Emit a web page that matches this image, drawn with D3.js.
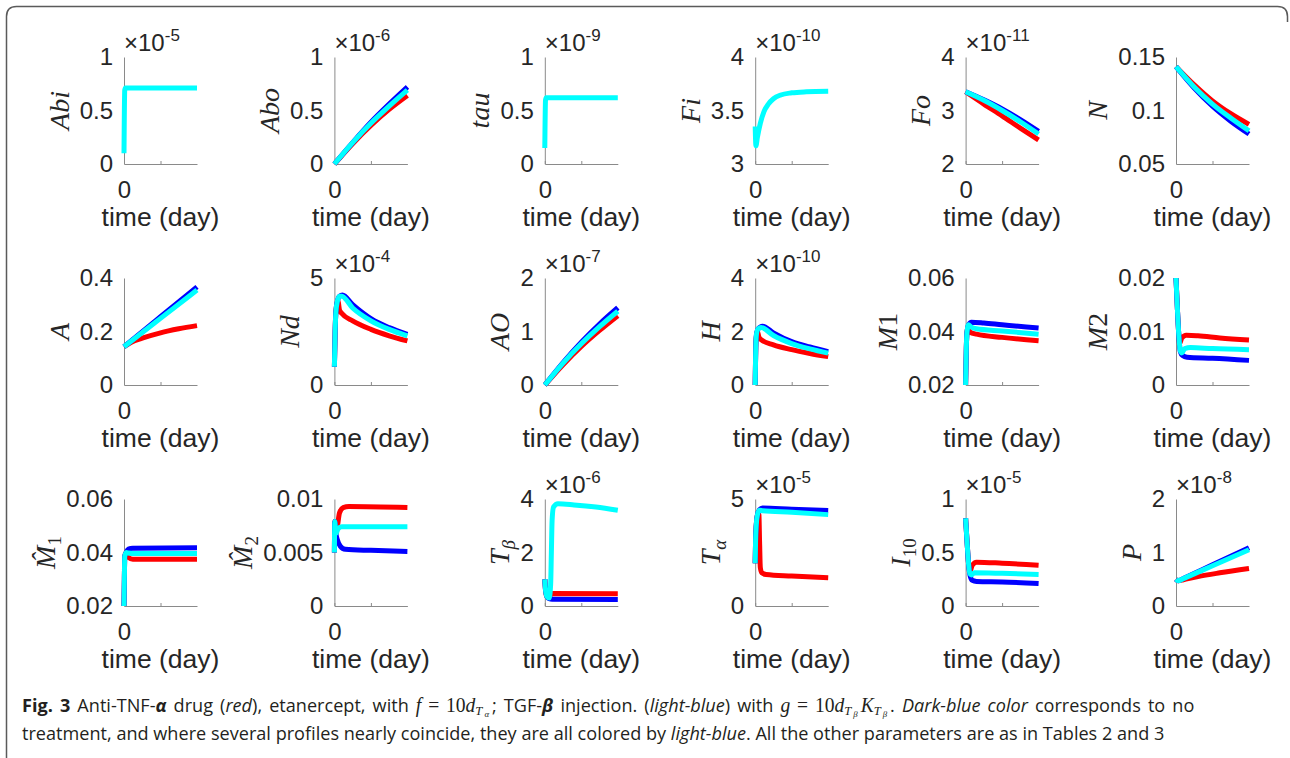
<!DOCTYPE html>
<html><head><meta charset="utf-8">
<script src="https://cdn.jsdelivr.net/npm/d3@7"></script>
<style>body{margin:0;background:#fff}svg{display:block}</style>
</head><body>
<svg id="chart" width="1290" height="758"></svg>
<script>
// ---------- data ----------
const yLabels = [
  [["Abi","i"]],[["Abo","i"]],[["tau","i"]],[["Fi","i"]],[["Fo","i"]],[["N","i"]],
  [["A","i"]],[["Nd","i"]],[["AO","i"]],[["H","i"]],[["M","i"],["1","n"]],[["M","i"],["2","n"]],
  [["M\u0302","i"],["1","sub"]],[["M\u0302","i"],["2","sub"]],[["T","i"],["β","subi"]],[["T","i"],["α","subi"]],[["I","i"],["10","sub"]],[["P","i"]]
];
const exponents = ["-5","-6","-9","-10","-11",null,null,"-4","-7","-10",null,null,null,null,"-6","-5","-5","-8"];
const yTicks = [
  [0,0.5,1],[0,0.5,1],[0,0.5,1],[3,3.5,4],[2,3,4],[0.05,0.1,0.15],
  [0,0.2,0.4],[0,5],[0,1,2],[0,2,4],[0.02,0.04,0.06],[0,0.01,0.02],
  [0.02,0.04,0.06],[0,0.005,0.01],[0,2,4],[0,5],[0,0.5,1],[0,1,2]
];
const xDomain = [0,100];
const xTicks = [0,50];
const xTickLabels = ["0",""];
const xLabel = "time (day)";

const redSeries = [
  null,
  [[0,0],[25,0.19],[50,0.36],[75,0.51],[100,0.64]],
  null,
  null,
  [[0,3.35],[25,3.12],[50,2.9],[75,2.67],[100,2.45]],
  [[0,0.141],[25,0.124],[50,0.109],[75,0.097],[100,0.087]],
  [[0,0.143],[10,0.16],[25,0.175],[50,0.195],[75,0.21],[100,0.222]],
  [[0,0.85],[1,2.5],[2,3.4],[4,3.85],[5,3.9],[7,3.5],[10,3.35],[25,3.0],[50,2.6],[75,2.3],[100,2.06]],
  [[0,0],[25,0.38],[50,0.72],[75,1.02],[100,1.295]],
  [[0,0],[1,1.6],[2,1.9],[3,2.0],[5,1.8],[8,1.7],[25,1.5],[50,1.32],[75,1.18],[100,1.06]],
  [[0,0.02],[1,0.034],[2,0.04],[3,0.0415],[6,0.0398],[15,0.039],[50,0.0378],[100,0.0365]],
  [[0,0.02],[2,0.014],[4,0.009],[5,0.0078],[8,0.0088],[14,0.0093],[30,0.0092],[60,0.0088],[100,0.0084]],
  [[0,0.02],[0.5,0.03],[1,0.0385],[3,0.04],[6,0.0382],[12,0.0375],[100,0.0375]],
  [[0,0.005],[0.5,0.0079],[2,0.0068],[4,0.0074],[7,0.0087],[12,0.0092],[20,0.0093],[100,0.0092]],
  [[0,1.0],[1,0.6],[3,0.35],[6,0.35],[10,0.47],[100,0.46]],
  [[0,2.0],[0.5,3.0],[1.5,3.8],[3,4.25],[5,4.3],[6,3.0],[7,1.8],[9,1.55],[15,1.47],[50,1.4],[100,1.32]],
  [[0,0.82],[2,0.6],[4,0.4],[6,0.32],[9,0.38],[15,0.41],[50,0.4],[100,0.38]],
  [[0,0.5],[3,0.47],[10,0.49],[30,0.55],[60,0.62],[100,0.7]]
];
const blueSeries = [
  null,
  [[0,0],[25,0.2],[50,0.39],[75,0.56],[100,0.72]],
  null,
  null,
  [[0,3.35],[25,3.2],[50,3.03],[75,2.83],[100,2.61]],
  [[0,0.141],[25,0.121],[50,0.104],[75,0.090],[100,0.078]],
  [[0,0.143],[50,0.255],[100,0.367]],
  [[0,0.85],[1,2.5],[2,3.4],[4,3.9],[7,4.15],[11,4.2],[25,3.75],[50,3.1],[75,2.68],[100,2.37]],
  [[0,0],[25,0.42],[50,0.8],[75,1.14],[100,1.445]],
  [[0,0],[1,1.6],[2,1.95],[4,2.1],[10,2.2],[25,1.95],[50,1.62],[75,1.42],[100,1.25]],
  [[0,0.02],[1,0.034],[2,0.04],[4,0.0425],[8,0.0435],[25,0.0432],[50,0.0425],[100,0.0413]],
  [[0,0.02],[2,0.014],[4,0.009],[6,0.0062],[9,0.0055],[15,0.0052],[50,0.005],[100,0.0046]],
  [[0,0.02],[0.5,0.03],[1,0.0385],[3,0.04],[6,0.0413],[12,0.0416],[100,0.0418]],
  [[0,0.005],[0.5,0.0079],[2,0.0068],[4,0.0062],[8,0.0056],[15,0.0053],[50,0.0052],[100,0.0051]],
  [[0,1.0],[1,0.6],[3,0.35],[6,0.27],[10,0.25],[100,0.24]],
  [[0,2.0],[0.5,3.0],[1.5,3.8],[3,4.25],[6,4.5],[10,4.58],[50,4.52],[100,4.46]],
  [[0,0.82],[2,0.6],[4,0.4],[6,0.29],[9,0.24],[15,0.23],[50,0.225],[100,0.21]],
  [[0,0.5],[3,0.47],[10,0.515],[50,0.77],[100,1.09]]
];
const cyanSeries = [
  [[0,0.1],[1,0.69],[2,0.71],[100,0.71]],
  [[0,0],[25,0.2],[50,0.38],[75,0.54],[100,0.69]],
  [[0,0.15],[1,0.6],[2,0.62],[100,0.62]],
  [[0,3.35],[1,3.17],[3,3.25],[7,3.38],[12,3.49],[18,3.56],[25,3.61],[35,3.645],[50,3.665],[70,3.675],[100,3.68]],
  [[0,3.35],[25,3.19],[50,3.0],[75,2.79],[100,2.56]],
  [[0,0.141],[25,0.122],[50,0.106],[75,0.093],[100,0.081]],
  [[0,0.143],[50,0.249],[100,0.355]],
  [[0,0.85],[1,2.5],[2,3.4],[4,3.9],[7,4.15],[10,4.15],[25,3.6],[50,3.0],[75,2.6],[100,2.3]],
  [[0,0],[25,0.41],[50,0.77],[75,1.09],[100,1.38]],
  [[0,0],[1,1.6],[2,1.95],[4,2.1],[8,2.15],[25,1.85],[50,1.55],[75,1.35],[100,1.19]],
  [[0,0.02],[1,0.034],[2,0.04],[4,0.0425],[7,0.0418],[15,0.041],[50,0.0402],[100,0.039]],
  [[0,0.02],[2,0.014],[4,0.009],[6,0.0063],[8,0.006],[12,0.0068],[20,0.007],[50,0.0068],[100,0.0066]],
  [[0,0.02],[0.5,0.03],[1,0.0385],[3,0.04],[6,0.0398],[12,0.0396],[100,0.0396]],
  [[0,0.005],[0.5,0.0079],[2,0.0068],[5,0.0072],[10,0.0074],[100,0.0074]],
  [[0,1.0],[1,0.6],[3,0.35],[6,0.3],[8,0.8],[9,2.0],[10,3.2],[12,3.7],[18,3.82],[40,3.78],[70,3.7],[100,3.58]],
  [[0,2.0],[0.5,3.0],[1.5,3.8],[3,4.25],[6,4.48],[10,4.45],[50,4.38],[100,4.27]],
  [[0,0.82],[2,0.6],[4,0.4],[6,0.3],[8,0.29],[12,0.31],[50,0.305],[100,0.295]],
  [[0,0.5],[3,0.47],[10,0.512],[50,0.751],[100,1.05]]
];
const seriesColors = ["#ff0000","#0000ff","#00ffff"];

const captionLine1 = [
  ["Fig. 3","b"],[" Anti-TNF-",""],["α","bi"],[" drug (",""],["red","i"],["), etanercept, with ",""],
  ["f","m"],["=","eq"],["10","mn"],["d","m"],["T","s1"],["α","s2"],[";","after"],[" TGF-",""],["β","bi"],[" injection. (",""],
  ["light-blue","i"],[") with ",""],["g","m"],["=","eq"],["10","mn"],["d","m"],["T","s1"],["β","s2"],["K","mafter"],["T","s1"],["β","s2"],
  [".","after"],[" ",""],["Dark-blue color","i"],[" corresponds to no",""]
];
const captionLine2 = [
  ["treatment, and where several profiles nearly coincide, they are all colored by ",""],["light-blue","i"],
  [". All the other parameters are as in Tables 2 and 3",""]
];

// ---------- layout ----------
const svg = d3.select("#chart");
const W = 73, H = 107;
const colX = d3.scaleLinear().domain([0,5]).range([124,1176]);
const rowY = d3.scaleLinear().domain([0,2]).range([57,499]);
const sansFont = "'Liberation Sans', Arial, sans-serif";
const serifFont = "'Liberation Serif', 'Times New Roman', serif";
const txtColor = "#262626";
const axisColor = "#8a8a8a";

svg.append("path")
  .attr("d","M6.5,758 V16.5 Q6.5,6.5 16.5,6.5 H1277.5 Q1287.5,6.5 1287.5,16.5 V22")
  .attr("fill","none").attr("stroke","#5a5a5a").attr("stroke-width",1.5);

yTicks.forEach((ticks,i)=>{
  const c = i%6, r = Math.floor(i/6);
  const g = svg.append("g").attr("transform",`translate(${colX(c)},${rowY(r)})`);
  const x = d3.scaleLinear().domain(xDomain).range([0,W]);
  const y = d3.scaleLinear().domain([ticks[0],ticks[ticks.length-1]]).range([H,0]);

  const ax = g.append("g").attr("transform",`translate(0,${H})`)
    .call(d3.axisBottom(x).tickValues(xTicks).tickFormat((d,j)=>xTickLabels[j])
      .tickSizeInner(-3).tickSizeOuter(0).tickPadding(17));
  const ay = g.append("g")
    .call(d3.axisLeft(y).tickValues(ticks).tickFormat(d=>String(d))
      .tickSizeInner(0).tickSizeOuter(0).tickPadding(11));
  [ax,ay].forEach(a=>{
    a.select(".domain").attr("stroke",axisColor).attr("stroke-width",1);
    a.selectAll(".tick line").attr("stroke",axisColor);
    a.selectAll(".tick text").attr("fill",txtColor).style("font-family",sansFont).style("font-size","24px");
  });

  g.append("text").attr("x",W/2).attr("y",H+62).attr("text-anchor","middle")
    .attr("fill",txtColor).style("font-family",sansFont).style("font-size","26.5px").text(xLabel);

  const maxW = d3.max(ay.selectAll(".tick text").nodes(), n=>n.getComputedTextLength());
  const lab = g.append("text")
    .attr("transform",`translate(${-(11+maxW+11)},${H/2}) rotate(-90)`)
    .attr("text-anchor","middle").attr("fill",txtColor)
    .style("font-family",serifFont).style("font-size","28px");
  let cur = 0;
  yLabels[i].forEach(([t,s])=>{
    const sp = lab.append("tspan").text(t);
    const sub = s.startsWith("sub");
    const off = sub ? 6 : 0;
    sp.attr("dy", off-cur); cur = off;
    sp.style("font-style", (s==="i"||s==="subi") ? "italic" : "normal");
    if (sub) sp.style("font-size","19px");
  });

  if (exponents[i]) {
    const ex = g.append("text").attr("x",0).attr("y",-6).attr("fill",txtColor)
      .style("font-family",sansFont).style("font-size","24px");
    ex.append("tspan").text("×10");
    ex.append("tspan").attr("dy",-10).style("font-size","17px").text(exponents[i]);
  }

  const line = d3.line().x(d=>x(d[0])).y(d=>y(d[1])).curve(d3.curveMonotoneX);
  [redSeries,blueSeries,cyanSeries].forEach((S,k)=>{
    if (!S[i]) return;
    g.append("path").attr("d",line(S[i])).attr("fill","none")
      .attr("stroke",seriesColors[k]).attr("stroke-width",5)
      .attr("stroke-linejoin","round");
  });
});

// caption (line 1 justified to full width, line 2 ragged)
const cap = svg.append("g");
function writeLine(segs, yPos){
  const t = cap.append("text").attr("x",0).attr("y",yPos).attr("fill","#231f20")
    .style("font-family","'Open Sans', 'Noto Sans', sans-serif").style("font-size","18.5px");
  const offs = {"":0,"b":0,"i":0,"bi":0,"m":0,"mafter":0,"mn":0,"eq":0,"after":0,"s1":3,"s2":5};
  let cur = 0;
  segs.forEach(([txt,s])=>{
    const sp = t.append("tspan").text(txt);
    const off = offs[s];
    if (off!==cur) sp.attr("dy", off-cur);
    cur = off;
    if (s==="b"||s==="bi") sp.style("font-weight","bold");
    if (["i","bi","m","mafter","s1","s2"].includes(s)) sp.style("font-style","italic");
    if (["m","mafter","mn","eq","s1","s2"].includes(s)) sp.style("font-family",serifFont);
    if (["m","mafter","mn","eq"].includes(s)) sp.style("font-size","20px");
    if (s==="s1") sp.style("font-size","13px");
    if (s==="s2") sp.style("font-size","9px").attr("dx",2);
    if (s==="eq"||s==="mn") sp.attr("dx",7);
    if (s==="after"||s==="mafter") sp.attr("dx",3);
  });
  return t;
}
const l1 = writeLine(captionLine1, 712);
const l2 = writeLine(captionLine2, 740);
const k = 1143 / l2.node().getBBox().width;
const nSpaces = (l1.text().match(/ /g)||[]).length;
const ws = Math.max(0, (1173 / k - l1.node().getBBox().width) / nSpaces);
l1.style("word-spacing", ws + "px");
cap.attr("transform",`translate(22,0) scale(${k},1)`);
</script>
</body></html>
